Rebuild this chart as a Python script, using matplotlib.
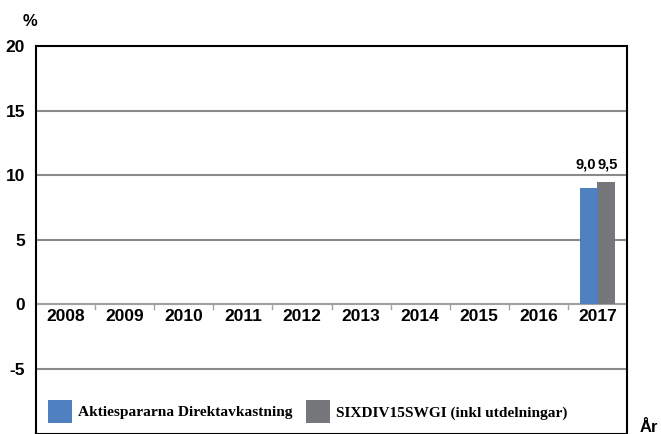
import numpy as np
import matplotlib
matplotlib.use("Agg")
import matplotlib.pyplot as plt
from matplotlib.patches import Patch

# data
years = ["2008", "2009", "2010", "2011", "2012", "2013", "2014", "2015", "2016", "2017"]
direktavkastning = [np.nan] * 9 + [9.0]
sixdiv = [np.nan] * 9 + [9.5]
value_labels_a = [""] * 9 + ["9,0"]
value_labels_b = [""] * 9 + ["9,5"]
yticks = [-5, 0, 5, 10, 15, 20]

BLUE = "#4f81c0"
GRAY = "#76777b"
GRID = "#8a8a8a"
sans = "Liberation Sans"
serif = "Liberation Serif"

fig = plt.figure(figsize=(6.61, 4.34), dpi=100)
ax = fig.add_axes([36 / 661, 0.5 / 434, (627 - 36) / 661, (433.5 - 46) / 434])

x = np.arange(len(years))
w = 0.29
ax.bar(x - w / 2, direktavkastning, w, color=BLUE, zorder=3)
ax.bar(x + w / 2, sixdiv, w, color=GRAY, zorder=3)

for xi, la, lb in zip(x, value_labels_a, value_labels_b):
    if la:
        ax.text(xi - w / 2 - 0.05, 10.25, la, ha="center", va="bottom",
                fontsize=10.5, fontweight="bold", family=sans)
    if lb:
        ax.text(xi + w / 2 + 0.03, 10.25, lb, ha="center", va="bottom",
                fontsize=10.5, fontweight="bold", family=sans)

ax.set_xlim(-0.5, len(years) - 0.5)
ax.set_ylim(-10, 20)

# horizontal grid lines
for t in yticks:
    if t == 20:
        continue
    ax.axhline(t, color=GRID if t != 0 else "#a0a0a0", lw=1.5, zorder=1)

# small ticks between categories on zero line
for b in x[1:] - 0.5:
    ax.plot([b, b], [0, -0.35], color="#a0a0a0", lw=1, zorder=2)

# year labels under the zero line
for xi, yr in zip(x, years):
    ax.text(xi, -0.95, yr, ha="center", va="center", fontsize=12.5,
            fontweight="bold", family=sans)

ax.set_xticks([])
ax.set_yticks(yticks)
ax.set_yticklabels([str(t) for t in yticks], fontsize=12.5, fontweight="bold", family=sans)
ax.tick_params(axis="y", length=0, pad=8)

for s in ["left", "top", "right", "bottom"]:
    ax.spines[s].set_color("black")
    ax.spines[s].set_linewidth(1.5)

fig.text(30 / 661, 1 - 22 / 434, "%", ha="center", va="center",
         fontsize=12, fontweight="bold", family=sans)
fig.text(649 / 661, 1 - 427 / 434, "År", ha="center", va="center",
         fontsize=12, fontweight="bold", family=sans)

handles = [Patch(facecolor=BLUE), Patch(facecolor=GRAY)]
ax.legend(handles, ["Aktiespararna Direktavkastning", "SIXDIV15SWGI (inkl utdelningar)"],
          ncol=2, loc="lower left", bbox_to_anchor=(0.021, 0.026), frameon=False,
          prop={"family": serif, "weight": "bold", "size": 11.1},
          handlelength=1.55, handleheight=2.0, handletextpad=0.4,
          columnspacing=0.85, borderaxespad=0, borderpad=0)

fig.savefig("out.png", dpi=100)
